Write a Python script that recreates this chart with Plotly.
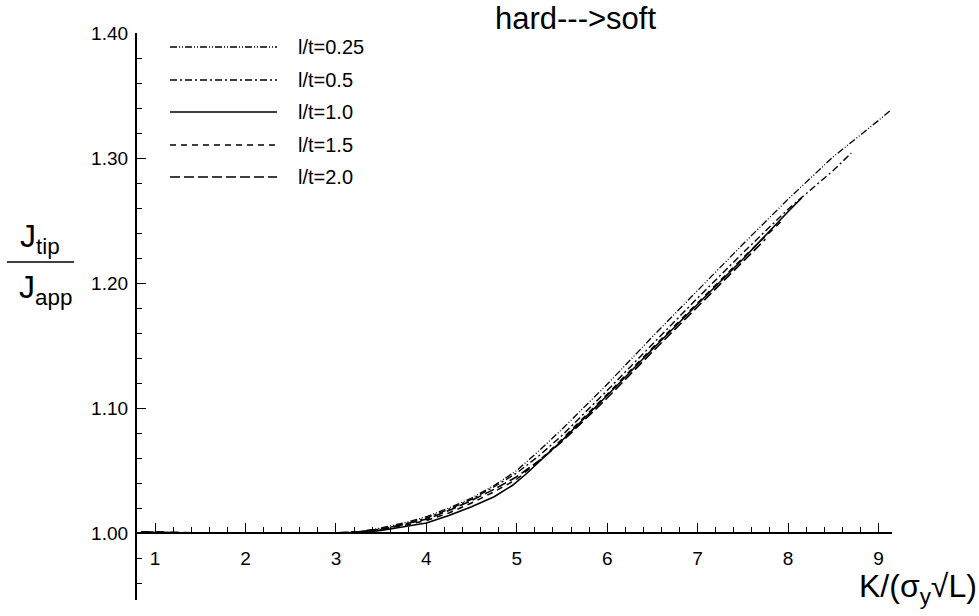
import plotly.graph_objects as go

# Normalised crack-tip J versus applied load, hard ---> soft interface
k_025 = [0.85, 1.5, 2.0, 2.5, 3.0, 3.25, 3.5, 3.75, 4.0, 4.25, 4.5, 4.75, 5.0, 5.25, 5.5,
         6.0, 6.5, 7.0, 7.5, 8.0, 8.5, 9.0, 9.13]
j_025 = [1.001, 1.000, 1.000, 1.000, 1.000, 1.001, 1.004, 1.008, 1.013, 1.020, 1.028, 1.038,
         1.050, 1.066, 1.083, 1.119, 1.157, 1.194, 1.231, 1.267, 1.301, 1.330, 1.338]

k_05 = [0.85, 1.5, 2.0, 2.5, 3.0, 3.25, 3.5, 3.75, 4.0, 4.25, 4.5, 4.75, 5.0, 5.25, 5.5,
        6.0, 6.5, 7.0, 7.5, 8.0, 8.5, 8.70]
j_05 = [1.001, 1.000, 1.000, 1.000, 1.000, 1.001, 1.003, 1.007, 1.012, 1.019, 1.027, 1.037,
        1.048, 1.062, 1.078, 1.114, 1.151, 1.188, 1.224, 1.259, 1.290, 1.304]

k_10 = [0.85, 1.5, 2.0, 2.5, 3.0, 3.25, 3.5, 3.75, 4.0, 4.25, 4.5, 4.75, 4.95, 5.1, 5.25, 5.5,
        6.0, 6.5, 7.0, 7.5, 8.0, 8.15]
j_10 = [1.000, 1.000, 1.000, 1.000, 1.000, 1.000, 1.002, 1.005, 1.008, 1.014, 1.021, 1.029,
        1.038, 1.047, 1.057, 1.074, 1.110, 1.147, 1.183, 1.219, 1.257, 1.268]

k_15 = [0.85, 1.5, 2.0, 2.5, 3.0, 3.25, 3.5, 3.75, 4.0, 4.25, 4.5, 4.75, 5.0, 5.25, 5.5,
        6.0, 6.5, 7.0, 7.5, 7.95]
j_15 = [1.000, 1.000, 1.000, 1.000, 1.000, 1.001, 1.003, 1.006, 1.010, 1.016, 1.024, 1.033,
        1.043, 1.058, 1.075, 1.111, 1.148, 1.184, 1.220, 1.251]

k_20 = [0.85, 1.5, 2.0, 2.5, 3.0, 3.25, 3.5, 3.75, 4.0, 4.25, 4.5, 4.75, 5.0, 5.25, 5.5,
        6.0, 6.5, 7.0, 7.5, 7.75]
j_20 = [1.001, 1.000, 1.000, 1.000, 1.000, 1.001, 1.003, 1.007, 1.011, 1.018, 1.026, 1.035,
        1.045, 1.058, 1.073, 1.108, 1.145, 1.181, 1.217, 1.235]

series_names = ["l/t=0.25", "l/t=0.5", "l/t=1.0", "l/t=1.5", "l/t=2.0"]
x_ticks = [1, 2, 3, 4, 5, 6, 7, 8, 9]
y_ticks = [1.00, 1.10, 1.20, 1.30, 1.40]
y_tick_text = ["1.00", "1.10", "1.20", "1.30", "1.40"]

title_text = "hard---&gt;soft"
x_title = "K/(σ<sub>y</sub>√L)"

FONT = "Liberation Sans, Arial, Helvetica, sans-serif"
dashes = [
    "7px,2px,1px,2px,1px,2px",
    "7px,3px,2px,3px",
    "solid",
    "6px,5px",
    "10px,4px",
]
widths = [1.3, 1.4, 1.6, 1.5, 1.6]

curves = [(k_025, j_025), (k_05, j_05), (k_10, j_10), (k_15, j_15), (k_20, j_20)]

fig = go.Figure()
for (kx, jy), name, dash, w in zip(curves, series_names, dashes, widths):
    fig.add_trace(go.Scatter(x=kx, y=jy, mode="lines", name=name,
                             line=dict(color="black", width=w, dash=dash),
                             showlegend=False))

# Axis geometry
x_range = [0.8, 9.15]
y_range = [0.9464, 1.40]
x_axis_pos = (1.0 - y_range[0]) / (y_range[1] - y_range[0])

x_minor = [round(0.8 + 0.2 * i, 2) for i in range(42)]
x_minor = [v for v in x_minor if x_range[0] <= v <= x_range[1] and abs(v - round(v)) > 1e-6]
y_minor = [round(0.96 + 0.02 * i, 2) for i in range(23)]
y_minor = [v for v in y_minor if abs(v * 10 - round(v * 10)) > 1e-6]

fig.update_layout(
    width=979, height=616,
    margin=dict(l=137, r=87, t=33, b=16),
    paper_bgcolor="white", plot_bgcolor="white",
    font=dict(family=FONT, color="black", size=19),
    showlegend=False,
    xaxis=dict(
        range=x_range, anchor="free", position=x_axis_pos,
        showline=True, linecolor="black", linewidth=2.2,
        ticks="inside", ticklen=9, tickwidth=1.4, tickcolor="black",
        tickvals=x_ticks, tickfont=dict(size=19, family=FONT),
        ticklabelstandoff=8,
        minor=dict(tickvals=x_minor, ticks="inside", ticklen=5, tickwidth=1.1, tickcolor="black"),
        showgrid=False, zeroline=False,
    ),
    yaxis=dict(
        range=y_range,
        showline=True, linecolor="black", linewidth=2.2,
        ticks="inside", ticklen=9, tickwidth=1.4, tickcolor="black",
        tickvals=y_ticks, ticktext=y_tick_text, tickfont=dict(size=19, family=FONT),
        ticklabelstandoff=3,
        minor=dict(tickvals=y_minor, ticks="inside", ticklen=5, tickwidth=1.1, tickcolor="black"),
        showgrid=False, zeroline=False,
    ),
)

# Plot-area pixel helpers for the hand-placed legend and labels
PL, PR, PT, PB = 137, 892, 33, 600


def px_x(px):
    return (px - PL) / (PR - PL)


def px_y(py):
    return (PB - py) / (PB - PT)


# Legend block
legend_rows = [47, 80, 112, 145, 177]
for name, dash, w, row in zip(series_names, dashes, widths, legend_rows):
    fig.add_shape(type="line", xref="paper", yref="paper",
                  x0=px_x(170), x1=px_x(277), y0=px_y(row), y1=px_y(row),
                  line=dict(color="black", width=w, dash=dash))
    fig.add_annotation(xref="paper", yref="paper", x=px_x(296), y=px_y(row),
                       text=name, showarrow=False, xanchor="left", yanchor="middle",
                       font=dict(size=20, family=FONT))

# Title
fig.add_annotation(xref="paper", yref="paper", x=px_x(575), y=px_y(19),
                   text=title_text, showarrow=False, xanchor="center", yanchor="middle",
                   font=dict(size=31, family=FONT))

# X-axis title
fig.add_annotation(xref="paper", yref="paper", x=px_x(979), y=px_y(588),
                   text=x_title, showarrow=False, xanchor="right", yanchor="middle",
                   font=dict(size=32, family=FONT))

# Y-axis title as a stacked fraction
fig.add_annotation(xref="paper", yref="paper", x=px_x(40), y=px_y(238),
                   text="J<sub>tip</sub>", showarrow=False, xanchor="center", yanchor="middle",
                   font=dict(size=32, family=FONT))
fig.add_shape(type="line", xref="paper", yref="paper",
              x0=px_x(7), x1=px_x(74), y0=px_y(262), y1=px_y(262),
              line=dict(color="black", width=1.6))
fig.add_annotation(xref="paper", yref="paper", x=px_x(45), y=px_y(289),
                   text="J<sub>app</sub>", showarrow=False, xanchor="center", yanchor="middle",
                   font=dict(size=32, family=FONT))

fig.write_html("out.html")
